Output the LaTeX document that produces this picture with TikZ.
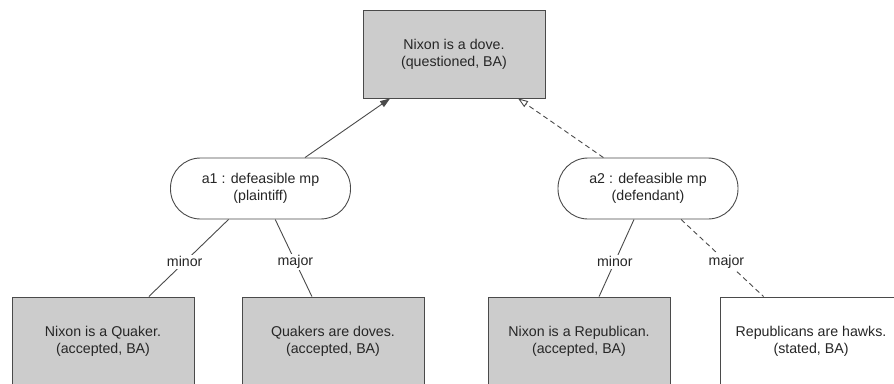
\documentclass[tikz,border=0pt]{standalone}
\usepackage{fontspec}
\setmainfont{Liberation Sans}
\usetikzlibrary{arrows.meta}
\definecolor{stmtfill}{HTML}{CCCCCC}
\definecolor{edgecol}{HTML}{4A4A4A}
\begin{document}
\begin{tikzpicture}[x=1pt,y=-1pt,
  font=\fontsize{14.2}{17}\selectfont,
  stmt/.style={draw=edgecol, line width=0.9pt, fill=stmtfill,
    minimum width=182pt, minimum height=88pt, inner sep=0pt,
    align=center, text=black!85},
  stated/.style={stmt, fill=white},
  argnode/.style={draw=edgecol, line width=0.9pt, fill=white,
    rounded corners=30pt, minimum width=180pt, minimum height=61pt,
    inner sep=0pt, align=center, text=black!85},
  link/.style={draw=edgecol, line width=0.9pt},
  pro/.style={link, -{Triangle[length=10pt,width=7pt]}},
  con/.style={link, dash pattern=on 5pt off 3.5pt,
    -{Triangle[open,length=10pt,width=7pt]}},
  premlabel/.style={fill=white, inner sep=1.5pt, text=black!85, pos=0.55}
]
\useasboundingbox (0,0) rectangle (894,383);

% conclusion
\node[stmt] (dove) at (454,54) {Nixon is a dove.\\(questioned, BA)};

% arguments
\node[argnode] (a1) at (260.5,188.5) {a1 : defeasible mp\\(plaintiff)};
\node[argnode] (a2) at (648,188.5) {a2 : defeasible mp\\(defendant)};

% premises
\node[stmt] (quaker) at (103,341) {Nixon is a Quaker.\\(accepted, BA)};
\node[stmt] (qdoves) at (333,341) {Quakers are doves.\\(accepted, BA)};
\node[stmt] (repub) at (579,341) {Nixon is a Republican.\\(accepted, BA)};
\node[stated] (rhawks) at (811,341) {Republicans are hawks.\\(stated, BA)};

% arguments to conclusion
\draw[pro] (a1) -- (dove);
\draw[con] (a2) -- (dove);

% premises of each argument
\draw[link] (a1) -- node[premlabel] {minor} (quaker);
\draw[link] (a1) -- node[premlabel] {major} (qdoves);
\draw[link] (a2) -- node[premlabel] {minor} (repub);
\draw[link, dash pattern=on 5pt off 3.5pt] (a2) -- node[premlabel] {major} (rhawks);
\end{tikzpicture}
\end{document}
